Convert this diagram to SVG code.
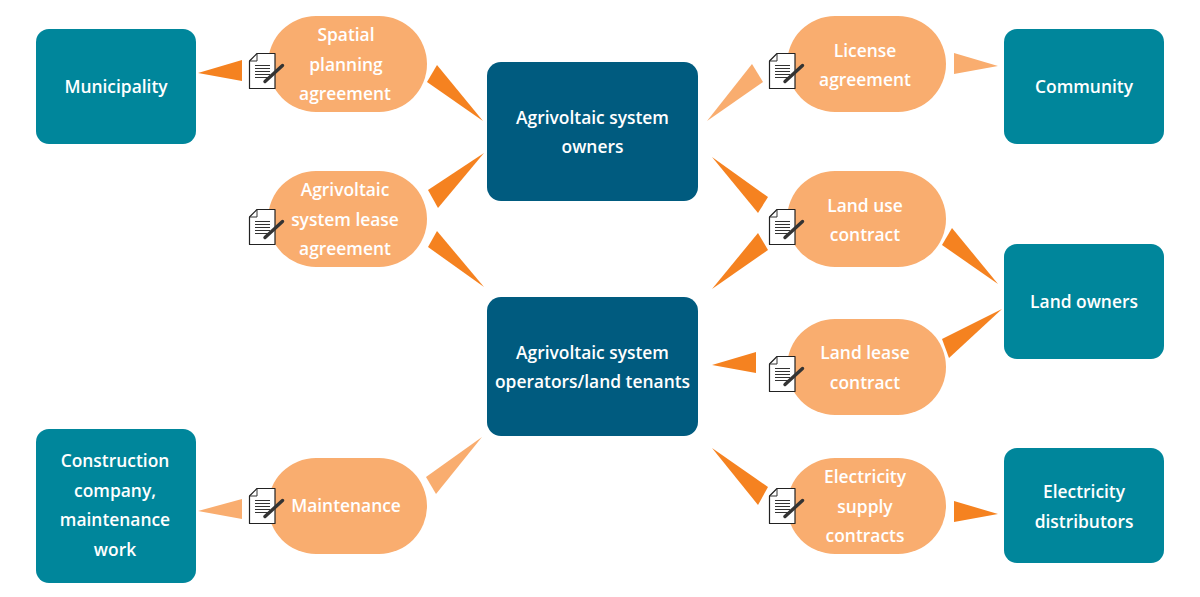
<svg xmlns="http://www.w3.org/2000/svg" width="1200" height="597" viewBox="0 0 1200 597">
<style>
.t{font-family:"Open Sans","Noto Sans","Liberation Sans",sans-serif;font-weight:600;font-size:17.4px;fill:#fff;text-anchor:middle}
.box{fill:#00869b}.own{fill:#005b7f}.pill{fill:#f9ad6f}
.dk{fill:#f58220}.lt{fill:#f9ad6f}
.doc{fill:#fff;stroke:#222;stroke-width:1.2;stroke-linejoin:round}
.ln{stroke:#333;stroke-width:1;fill:none}
.pen{stroke:#333;stroke-width:3.4;stroke-linecap:round;fill:none}
</style>
<defs>
<g id="doc">
<path class="doc" d="M8 .5H26V35.500H.5V8Z"/>
<path class="ln" d="M8 .5V8H.5M6 12.500H21M6 15.500H21M6 18.500H21M6 21.500H21M6 24.500H19"/>
<path class="pen" d="M16 28.500L33.500 12.500"/>
</g>
</defs>
<g id="connectors">
<polygon class="dk" points="198,73 242,60 242,81"/>
<polygon class="dk" points="437,65 427,82 483,121"/>
<polygon class="dk" points="484,153 428,190 438,208"/>
<polygon class="dk" points="484,287 437,231 428,247"/>
<polygon class="lt" points="707,121 752,64 763,82"/>
<polygon class="lt" points="954,53 954,74 998,66"/>
<polygon class="dk" points="712,157 768,197 758,213"/>
<polygon class="dk" points="712,289 758,233 768,250"/>
<polygon class="dk" points="952,228 942,245 998,284"/>
<polygon class="dk" points="1002,309 942,339 949,358"/>
<polygon class="dk" points="712,365 756,352 756,373"/>
<polygon class="lt" points="482,437 426,477 436,494"/>
<polygon class="lt" points="198,511 242,499 242,519"/>
<polygon class="dk" points="712,448 768,487 758,505"/>
<polygon class="dk" points="954,501 954,522 998,514"/>
</g>
<g id="municipality"><rect class="box" x="36" y="29" width="160" height="115" rx="13"/><text class="t" x="116" y="93">Municipality</text></g>
<g id="community"><rect class="box" x="1004" y="29" width="160" height="115" rx="13"/><text class="t" x="1084" y="93">Community</text></g>
<g id="land-owners"><rect class="box" x="1004" y="244" width="160" height="115" rx="13"/><text class="t" x="1084" y="308">Land owners</text></g>
<g id="electricity-distributors"><rect class="box" x="1004" y="448" width="160" height="115" rx="13"/><text class="t" x="1084" y="498">Electricity</text><text class="t" x="1084" y="528">distributors</text></g>
<g id="construction"><rect class="box" x="36" y="429" width="160" height="154" rx="13"/><text class="t" x="115" y="467">Construction</text><text class="t" x="115" y="497">company,</text><text class="t" x="115" y="526">maintenance</text><text class="t" x="115" y="556">work</text></g>
<g id="owners"><rect class="own" x="487" y="62" width="211" height="139" rx="14"/><text class="t" x="592.500" y="124">Agrivoltaic system</text><text class="t" x="592.500" y="153">owners</text></g>
<g id="operators"><rect class="own" x="487" y="297" width="211" height="139" rx="14"/><text class="t" x="592.500" y="359">Agrivoltaic system</text><text class="t" x="592.500" y="388">operators/land tenants</text></g>
<g id="spatial"><rect class="pill" x="268" y="16" width="159" height="96" rx="48"/><use href="#doc" x="249" y="53"/><text class="t" x="346" y="41">Spatial</text><text class="t" x="346" y="71">planning</text><text class="t" x="345" y="100">agreement</text></g>
<g id="lease"><rect class="pill" x="268" y="171" width="159" height="96" rx="48"/><use href="#doc" x="249" y="209"/><text class="t" x="345" y="196">Agrivoltaic</text><text class="t" x="345" y="226">system lease</text><text class="t" x="345" y="255">agreement</text></g>
<g id="maintenance"><rect class="pill" x="268" y="458" width="159" height="96" rx="48"/><use href="#doc" x="249" y="488"/><text class="t" x="346" y="512">Maintenance</text></g>
<g id="license"><rect class="pill" x="787" y="16" width="159" height="96" rx="48"/><use href="#doc" x="769" y="53"/><text class="t" x="865" y="57">License</text><text class="t" x="865" y="86">agreement</text></g>
<g id="land-use"><rect class="pill" x="787" y="171" width="159" height="96" rx="48"/><use href="#doc" x="769" y="209"/><text class="t" x="865" y="212">Land use</text><text class="t" x="865" y="241">contract</text></g>
<g id="land-lease"><rect class="pill" x="787" y="319" width="159" height="96" rx="48"/><use href="#doc" x="769" y="356"/><text class="t" x="865" y="359">Land lease</text><text class="t" x="865" y="389">contract</text></g>
<g id="electricity"><rect class="pill" x="787" y="458" width="159" height="96" rx="48"/><use href="#doc" x="769" y="488"/><text class="t" x="865" y="483">Electricity</text><text class="t" x="865" y="513">supply</text><text class="t" x="865" y="542">contracts</text></g>
</svg>
